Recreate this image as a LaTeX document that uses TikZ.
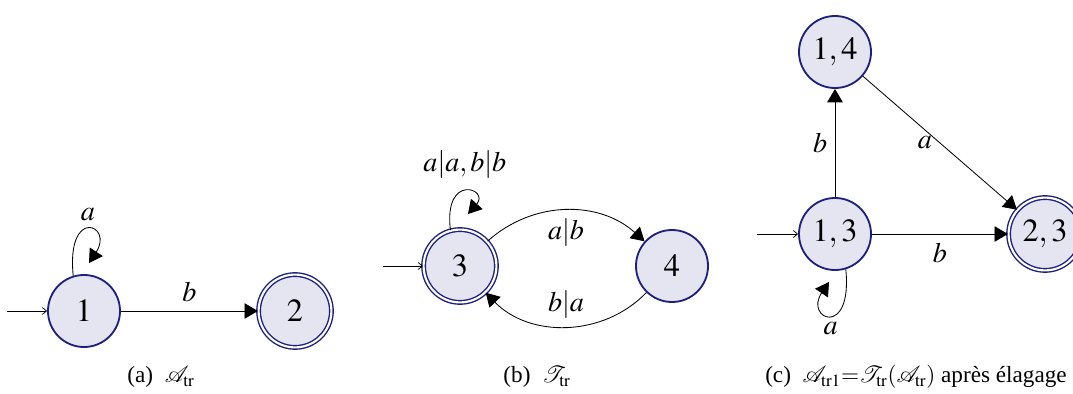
\documentclass[tikz,border=0pt]{standalone}
\usepackage{mathptmx}
\usepackage{fontspec}
\setmainfont{Liberation Serif}
\usetikzlibrary{arrows.meta}
\definecolor{etatfond}{RGB}{229,229,242}
\definecolor{etatbord}{RGB}{30,32,128}

\begin{document}
\begin{tikzpicture}[x=0.025cm, y=0.025cm, >={Triangle[length=9.5pt, width=11pt]}]

    % --- Styles des états et des transitions ---
    \tikzset{
        etat/.style={circle, draw=etatbord, fill=etatfond, line width=1.3pt, minimum size=1.8cm, inner sep=0pt, font=\fontsize{23}{27}\selectfont},
        final/.style={etat, line width=1pt, double=white, double distance=1.5pt, minimum size=1.82cm},
        trans/.style={->, line width=0.6pt},
        entree/.style={-{Straight Barb[length=3pt, width=5pt]}, line width=0.5pt},
        lbl/.style={font=\fontsize{20}{24}\selectfont},
        legende/.style={font=\fontsize{16.5}{20}\selectfont}
    }

    \useasboundingbox (0,0) rectangle (1073,-394);

    % --- (a) automate A_tr ---
    \node[etat]  (n1) at (84, -311)  {$1$};
    \node[final] (n2) at (295, -311) {$2$};
    \coordinate (i1) at (7, -311);
    \coordinate (l1) at (89, -263);

    \draw[entree] (i1) -- (n1);
    \draw[trans] (n1) -- (n2) node[lbl, midway, above=3pt] (b12) {$b$};
    \draw[trans] (n1.107) .. controls +(-7,70) and +(25,38) .. (l1)
        node[lbl, pos=0.5, above=2pt] (a11) {$a$};

    \node[legende] (capa) at (161, -377) {(a)\ \ $\mathcal{A}_{\mathrm{tr}}$};

    % --- (b) transducteur T_tr ---
    \node[final] (n3) at (460, -266) {$3$};
    \node[etat]  (n4) at (672, -266) {$4$};
    \coordinate (i3) at (383, -266);
    \coordinate (l3) at (468, -214);

    \draw[entree] (i3) -- (n3);
    \draw[trans] (n3.105) .. controls +(-7,58) and +(22,25) .. (l3)
        node[lbl, pos=0.5, above=5pt] (a33) {$a|a,b|b$};
    \draw[trans] (n3) to[bend left=42] node[lbl, midway, below=2pt] (a34) {$a|b$} (n4);
    \draw[trans] (n4) to[bend left=46] node[lbl, midway, above=2pt] (b43) {$b|a$} (n3);

    \node[legende] (capb) at (537, -377) {(b)\ \ $\mathcal{T}_{\mathrm{tr}}$};

    % --- (c) produit apres elagage ---
    \node[etat]  (n14) at (835, -52)   {$1,4$};
    \node[etat]  (n13) at (835, -234)  {$1,3$};
    \node[final] (n23) at (1045, -234) {$2,3$};
    \coordinate (i13) at (757, -234);
    \coordinate (l13) at (829, -282);

    \draw[entree] (i13) -- (n13);
    \draw[trans] (n13) -- (n14) node[lbl, midway, left=2pt] (b1314) {$b$};
    \draw[trans] (n14) -- (n23) node[lbl, midway, left=2pt] (a1423) {$a$};
    \draw[trans] (n13) -- (n23) node[lbl, midway, below=3pt] (b1323) {$b$};
    \draw[trans] (n13.-73) .. controls +(7,-70) and +(-25,-37) .. (l13)
        node[lbl, pos=0.5, below=1pt] (a1313) {$a$};

    \node[legende] (capc) at (916, -377) {(c)\ \ $\mathcal{A}_{\mathrm{tr1}}{=}\mathcal{T}_{\mathrm{tr}}(\mathcal{A}_{\mathrm{tr}})$ après élagage};

\end{tikzpicture}
\end{document}
